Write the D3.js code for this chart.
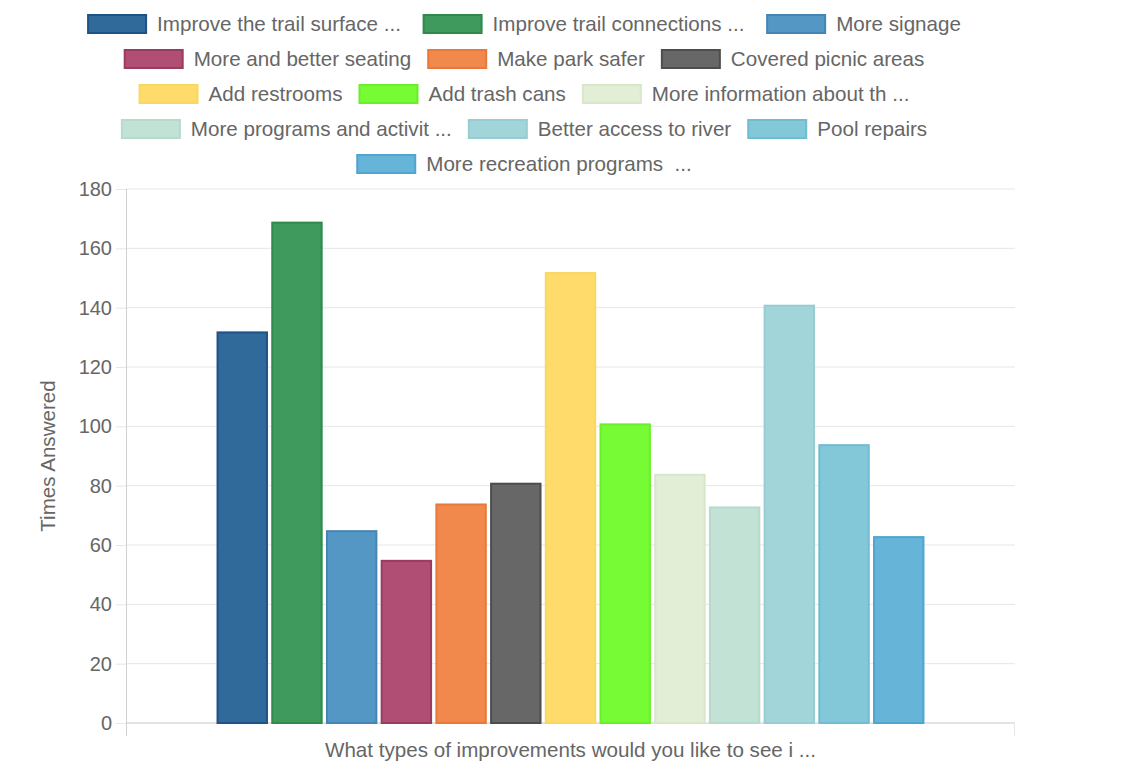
<!DOCTYPE html>
<html><head><meta charset="utf-8">
<script src="https://cdn.jsdelivr.net/npm/d3@7"></script>
<style>html,body{margin:0;padding:0;background:#fff;}svg{display:block;font-family:"Liberation Sans",Arial,Helvetica,sans-serif;}text{white-space:pre;}</style>
</head><body>
<svg id="chart" width="1124" height="762"></svg>
<script>
const categories = ["Improve the trail surface ... ","Improve trail connections ... ","More signage","More and better seating","Make park safer","Covered picnic areas","Add restrooms","Add trash cans","More information about th ...","More programs and activit ...","Better access to river","Pool repairs","More recreation programs  ..."];
const values = [132,169,65,55,74,81,152,101,84,73,141,94,63];
const fills = ["#306a9b","#3f9a5d","#5597c4","#b04f73","#f0894b","#676767","#fedb6b","#76fb35","#e2eed6","#c2e2d5","#a2d5d9","#82c8d9","#66b4d8"];
const strokes = ["#1f5285","#2f8a4c","#4485b4","#993c60","#e8793a","#4d4d4d","#f9d760","#6af02a","#d8e6ca","#b6dacc","#97cdd2","#70bcd0","#4ea5cf"];
const yTicks = [0,20,40,60,80,100,120,140,160,180];
const yTitle = "Times Answered";
const xTitle = "What types of improvements would you like to see i ...";

const svg = d3.select("#chart");
const L = 126, R = 1015, T = 189, B = 723;
const FONT = 20.6;
const textColor = "#666";

const y = d3.scaleLinear().domain([0,180]).range([B,T]);
const W = R - L;
const x = d3.scaleBand().domain(categories).range([L + 0.1*W, R - 0.1*W]).paddingInner(0.06).paddingOuter(0.03);

// gridlines + y axis
const yAxis = d3.axisLeft(y).tickValues(yTicks).tickSize(10).tickPadding(4);
const gy = svg.append("g").attr("transform",`translate(${L},0)`).call(yAxis);
gy.select(".domain").remove();
gy.selectAll(".tick line").attr("stroke","#e6e6e6");
gy.selectAll(".tick text").attr("fill",textColor).style("font-size","20px").style("font-family","Liberation Sans, Arial, sans-serif");
svg.append("g").selectAll("line").data(yTicks).join("line")
  .attr("x1",L).attr("x2",R).attr("y1",d=>y(d)).attr("y2",d=>y(d))
  .attr("stroke",d=>d===0?"#c8c8c8":"#e6e6e6").attr("stroke-width",1);
// left axis line
svg.append("line").attr("x1",L+0.5).attr("x2",L+0.5).attr("y1",T).attr("y2",B+13).attr("stroke","#d0d0d0");
svg.append("line").attr("x1",R-0.5).attr("x2",R-0.5).attr("y1",B).attr("y2",B+13).attr("stroke","#e6e6e6");

// bars
svg.append("g").selectAll("rect").data(values).join("rect")
  .attr("x",(d,i)=>x(categories[i])+1)
  .attr("width",x.bandwidth()-2)
  .attr("y",d=>y(d)+1)
  .attr("height",d=>B-y(d)-1)
  .attr("fill",(d,i)=>fills[i])
  .attr("stroke",(d,i)=>strokes[i])
  .attr("stroke-width",2);

// axis titles
svg.append("text").attr("transform",`translate(55,${(T+B)/2}) rotate(-90)`)
  .attr("text-anchor","middle").attr("fill",textColor).style("font-size",FONT+"px").text(yTitle);
svg.append("text").attr("x",(L+R)/2).attr("y",757).attr("text-anchor","middle")
  .attr("fill",textColor).style("font-size",FONT+"px").text(xTitle);

// legend
const boxW = 60, boxH = 20, gapText = 10, gapItem = 16, maxW = 960, rowH = 35, legendCenter = 524, firstRowY = 24;
const meas = svg.append("text").style("font-size",FONT+"px");
const items = categories.map((c,i)=>{ meas.text(c); return {label:c,i,w:boxW+gapText+meas.node().getComputedTextLength()}; });
meas.remove();
const rows = [];
let cur = [], curW = 0;
items.forEach(it=>{
  const add = (cur.length? gapItem:0) + it.w;
  if (cur.length && curW + add > maxW) { rows.push({items:cur,w:curW}); cur=[]; curW=0; }
  curW += (cur.length? gapItem:0) + it.w; cur.push(it);
});
if (cur.length) rows.push({items:cur,w:curW});
const lg = svg.append("g");
rows.forEach((row,ri)=>{
  let xx = legendCenter - row.w/2;
  const cy = firstRowY + ri*rowH;
  row.items.forEach(it=>{
    lg.append("rect").attr("x",xx+1).attr("y",cy-boxH/2+1).attr("width",boxW-2).attr("height",boxH-2)
      .attr("fill",fills[it.i]).attr("stroke",strokes[it.i]).attr("stroke-width",2);
    lg.append("text").attr("x",xx+boxW+gapText).attr("y",cy).attr("dy","0.35em")
      .attr("fill",textColor).style("font-size",FONT+"px").text(it.label);
    xx += it.w + gapItem;
  });
});
</script>
</body></html>
